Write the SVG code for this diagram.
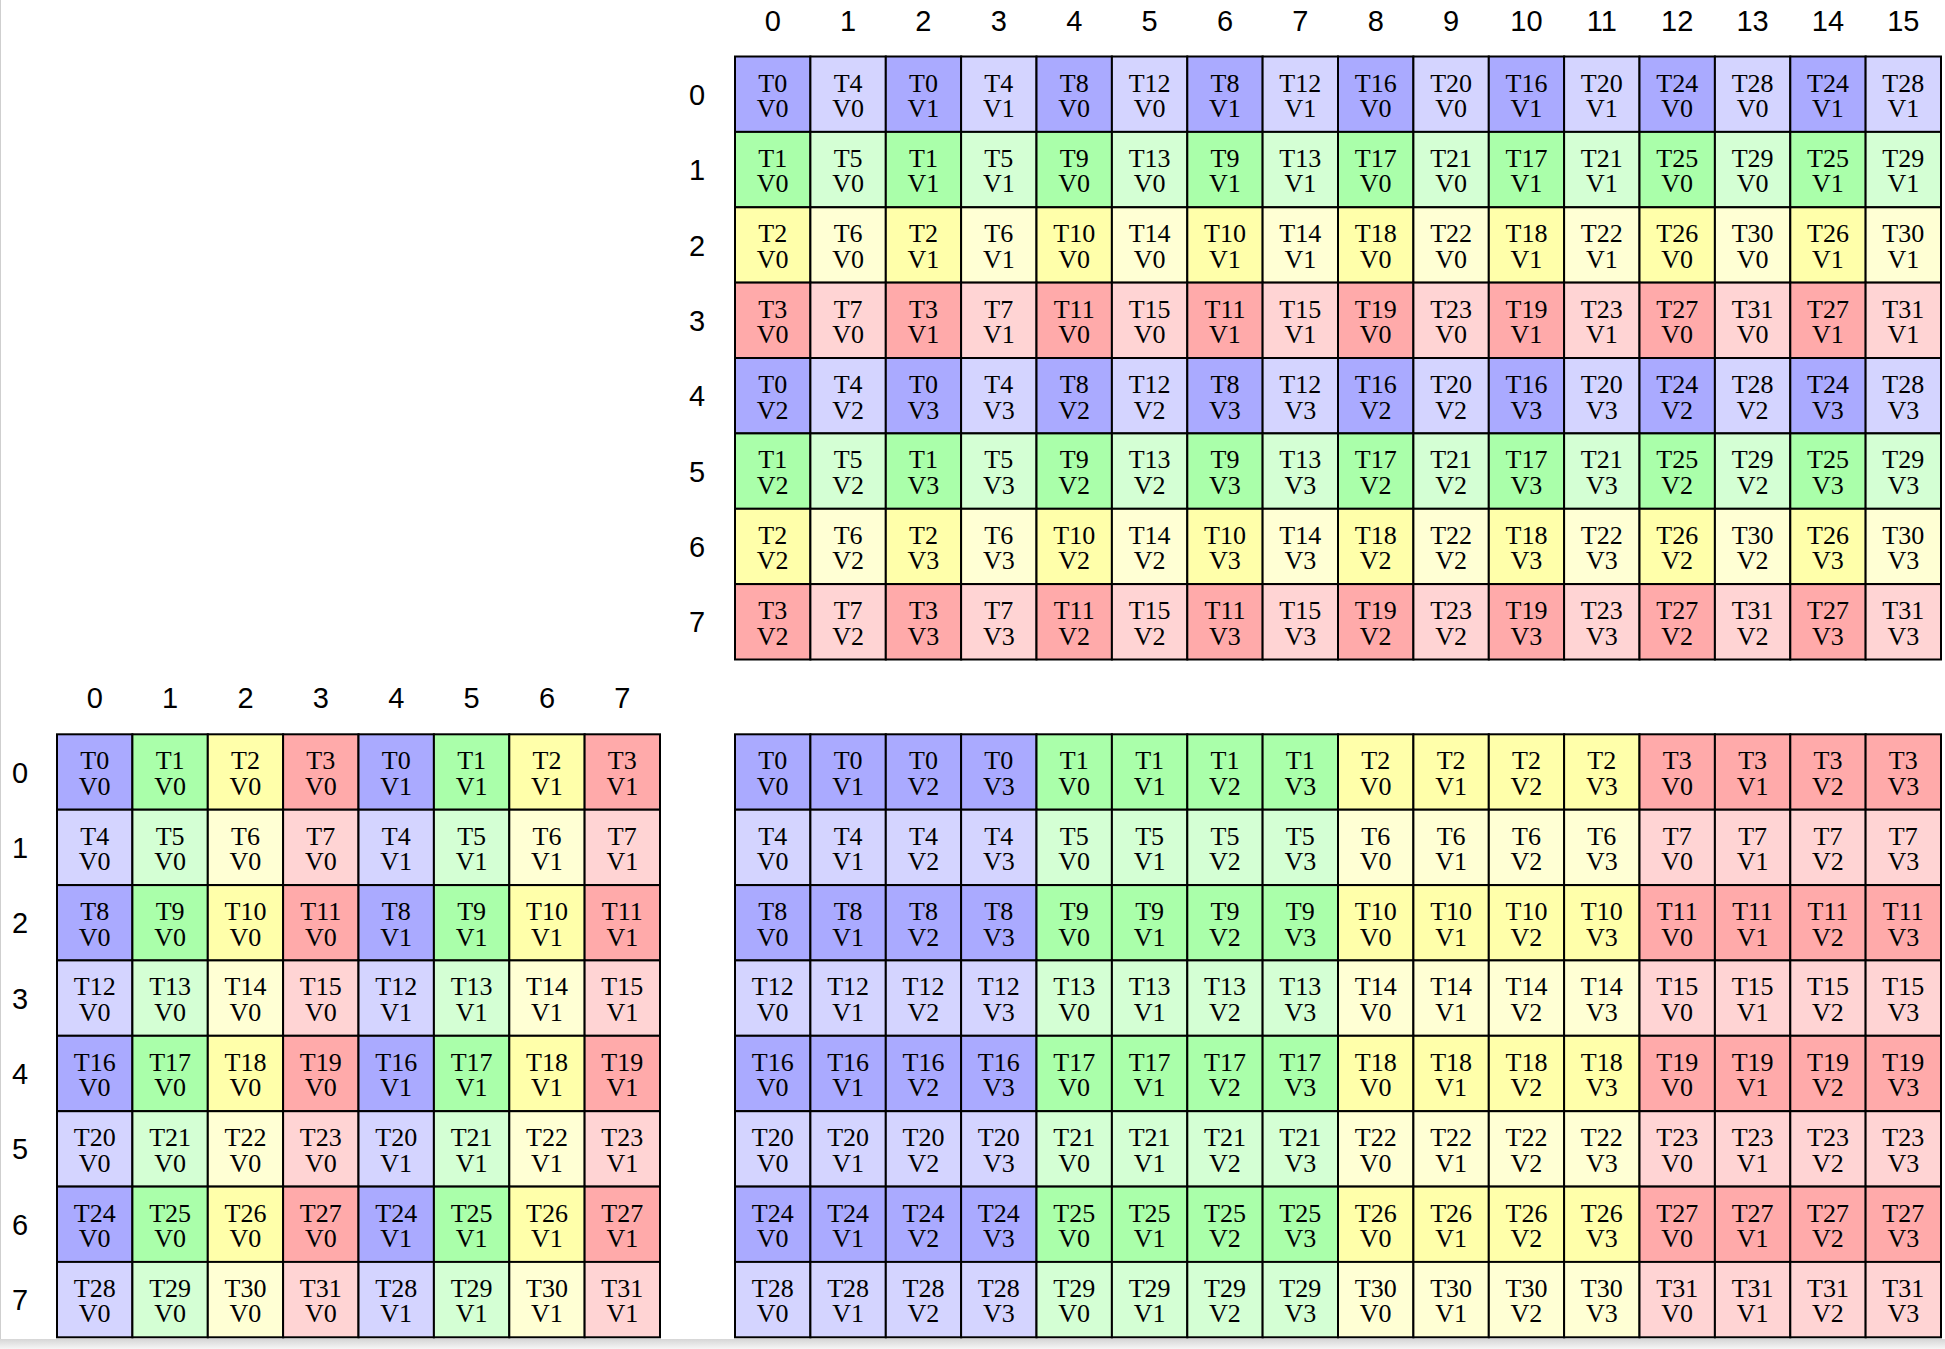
<svg xmlns="http://www.w3.org/2000/svg" width="1945" height="1349" viewBox="0 0 1945 1349">
<style>
rect.k{stroke:#000;stroke-width:2;width:75.4px;height:75.4px}
.b0{fill:#aaaaff}.b1{fill:#d4d4ff}.g0{fill:#aaffaa}.g1{fill:#d4ffd4}.y0{fill:#ffffaa}.y1{fill:#ffffd4}.r0{fill:#ffaaaa}.r1{fill:#ffd4d4}
text{font-family:"Liberation Serif","Times New Roman",serif;font-size:26px;text-anchor:middle;fill:#000}
text.h{font-family:"Liberation Sans",Arial,sans-serif;font-size:29px}
</style>
<defs>
<linearGradient id="sh" x1="0" y1="0" x2="0" y2="1"><stop offset="0" stop-color="#d6d6d6"/><stop offset="1" stop-color="#f6f6f6"/></linearGradient>
</defs>
<rect x="0" y="0" width="1945" height="1349" fill="#fff"/>
<rect x="0" y="1339" width="1945" height="10" fill="url(#sh)"/>
<line x1="0.5" y1="0" x2="0.5" y2="1339" stroke="#cfcfcf" stroke-width="1"/>

<g id="labels">
<g id="tr-colhead">
<text class="h" x="772.7" y="31">0</text><text class="h" x="848.1" y="31">1</text><text class="h" x="923.4" y="31">2</text><text class="h" x="998.8" y="31">3</text><text class="h" x="1074.2" y="31">4</text><text class="h" x="1149.6" y="31">5</text><text class="h" x="1225" y="31">6</text><text class="h" x="1300.3" y="31">7</text><text class="h" x="1375.7" y="31">8</text><text class="h" x="1451.1" y="31">9</text><text class="h" x="1526.5" y="31">10</text><text class="h" x="1601.8" y="31">11</text><text class="h" x="1677.2" y="31">12</text><text class="h" x="1752.6" y="31">13</text><text class="h" x="1828" y="31">14</text><text class="h" x="1903.3" y="31">15</text>
</g>
<g id="tr-rowhead">
<text class="h" x="697" y="104.7">0</text><text class="h" x="697" y="180.1">1</text><text class="h" x="697" y="255.5">2</text><text class="h" x="697" y="330.8">3</text><text class="h" x="697" y="406.2">4</text><text class="h" x="697" y="481.6">5</text><text class="h" x="697" y="557">6</text><text class="h" x="697" y="632.3">7</text>
</g>
<g id="bl-colhead">
<text class="h" x="94.7" y="708">0</text><text class="h" x="170.1" y="708">1</text><text class="h" x="245.5" y="708">2</text><text class="h" x="320.8" y="708">3</text><text class="h" x="396.2" y="708">4</text><text class="h" x="471.6" y="708">5</text><text class="h" x="547" y="708">6</text><text class="h" x="622.3" y="708">7</text>
</g>
<g id="bl-rowhead">
<text class="h" x="20" y="782.5">0</text><text class="h" x="20" y="857.9">1</text><text class="h" x="20" y="933.3">2</text><text class="h" x="20" y="1008.6">3</text><text class="h" x="20" y="1084">4</text><text class="h" x="20" y="1159.4">5</text><text class="h" x="20" y="1234.8">6</text><text class="h" x="20" y="1310.1">7</text>
</g>
</g>

<g id="connectors"></g>

<g id="grid-tr" transform="translate(735 56.5)">
<g id="tr-0-0" transform="translate(0 0)"><rect class="k b0"/><text x="37.7" y="35">T0<tspan x="37.7" dy="25.5">V0</tspan></text></g>
<g id="tr-0-1" transform="translate(75.4 0)"><rect class="k b1"/><text x="37.7" y="35">T4<tspan x="37.7" dy="25.5">V0</tspan></text></g>
<g id="tr-0-2" transform="translate(150.8 0)"><rect class="k b0"/><text x="37.7" y="35">T0<tspan x="37.7" dy="25.5">V1</tspan></text></g>
<g id="tr-0-3" transform="translate(226.1 0)"><rect class="k b1"/><text x="37.7" y="35">T4<tspan x="37.7" dy="25.5">V1</tspan></text></g>
<g id="tr-0-4" transform="translate(301.5 0)"><rect class="k b0"/><text x="37.7" y="35">T8<tspan x="37.7" dy="25.5">V0</tspan></text></g>
<g id="tr-0-5" transform="translate(376.9 0)"><rect class="k b1"/><text x="37.7" y="35">T12<tspan x="37.7" dy="25.5">V0</tspan></text></g>
<g id="tr-0-6" transform="translate(452.3 0)"><rect class="k b0"/><text x="37.7" y="35">T8<tspan x="37.7" dy="25.5">V1</tspan></text></g>
<g id="tr-0-7" transform="translate(527.6 0)"><rect class="k b1"/><text x="37.7" y="35">T12<tspan x="37.7" dy="25.5">V1</tspan></text></g>
<g id="tr-0-8" transform="translate(603 0)"><rect class="k b0"/><text x="37.7" y="35">T16<tspan x="37.7" dy="25.5">V0</tspan></text></g>
<g id="tr-0-9" transform="translate(678.4 0)"><rect class="k b1"/><text x="37.7" y="35">T20<tspan x="37.7" dy="25.5">V0</tspan></text></g>
<g id="tr-0-10" transform="translate(753.8 0)"><rect class="k b0"/><text x="37.7" y="35">T16<tspan x="37.7" dy="25.5">V1</tspan></text></g>
<g id="tr-0-11" transform="translate(829.1 0)"><rect class="k b1"/><text x="37.7" y="35">T20<tspan x="37.7" dy="25.5">V1</tspan></text></g>
<g id="tr-0-12" transform="translate(904.5 0)"><rect class="k b0"/><text x="37.7" y="35">T24<tspan x="37.7" dy="25.5">V0</tspan></text></g>
<g id="tr-0-13" transform="translate(979.9 0)"><rect class="k b1"/><text x="37.7" y="35">T28<tspan x="37.7" dy="25.5">V0</tspan></text></g>
<g id="tr-0-14" transform="translate(1055.3 0)"><rect class="k b0"/><text x="37.7" y="35">T24<tspan x="37.7" dy="25.5">V1</tspan></text></g>
<g id="tr-0-15" transform="translate(1130.6 0)"><rect class="k b1"/><text x="37.7" y="35">T28<tspan x="37.7" dy="25.5">V1</tspan></text></g>

<g id="tr-1-0" transform="translate(0 75.4)"><rect class="k g0"/><text x="37.7" y="35">T1<tspan x="37.7" dy="25.5">V0</tspan></text></g>
<g id="tr-1-1" transform="translate(75.4 75.4)"><rect class="k g1"/><text x="37.7" y="35">T5<tspan x="37.7" dy="25.5">V0</tspan></text></g>
<g id="tr-1-2" transform="translate(150.8 75.4)"><rect class="k g0"/><text x="37.7" y="35">T1<tspan x="37.7" dy="25.5">V1</tspan></text></g>
<g id="tr-1-3" transform="translate(226.1 75.4)"><rect class="k g1"/><text x="37.7" y="35">T5<tspan x="37.7" dy="25.5">V1</tspan></text></g>
<g id="tr-1-4" transform="translate(301.5 75.4)"><rect class="k g0"/><text x="37.7" y="35">T9<tspan x="37.7" dy="25.5">V0</tspan></text></g>
<g id="tr-1-5" transform="translate(376.9 75.4)"><rect class="k g1"/><text x="37.7" y="35">T13<tspan x="37.7" dy="25.5">V0</tspan></text></g>
<g id="tr-1-6" transform="translate(452.3 75.4)"><rect class="k g0"/><text x="37.7" y="35">T9<tspan x="37.7" dy="25.5">V1</tspan></text></g>
<g id="tr-1-7" transform="translate(527.6 75.4)"><rect class="k g1"/><text x="37.7" y="35">T13<tspan x="37.7" dy="25.5">V1</tspan></text></g>
<g id="tr-1-8" transform="translate(603 75.4)"><rect class="k g0"/><text x="37.7" y="35">T17<tspan x="37.7" dy="25.5">V0</tspan></text></g>
<g id="tr-1-9" transform="translate(678.4 75.4)"><rect class="k g1"/><text x="37.7" y="35">T21<tspan x="37.7" dy="25.5">V0</tspan></text></g>
<g id="tr-1-10" transform="translate(753.8 75.4)"><rect class="k g0"/><text x="37.7" y="35">T17<tspan x="37.7" dy="25.5">V1</tspan></text></g>
<g id="tr-1-11" transform="translate(829.1 75.4)"><rect class="k g1"/><text x="37.7" y="35">T21<tspan x="37.7" dy="25.5">V1</tspan></text></g>
<g id="tr-1-12" transform="translate(904.5 75.4)"><rect class="k g0"/><text x="37.7" y="35">T25<tspan x="37.7" dy="25.5">V0</tspan></text></g>
<g id="tr-1-13" transform="translate(979.9 75.4)"><rect class="k g1"/><text x="37.7" y="35">T29<tspan x="37.7" dy="25.5">V0</tspan></text></g>
<g id="tr-1-14" transform="translate(1055.3 75.4)"><rect class="k g0"/><text x="37.7" y="35">T25<tspan x="37.7" dy="25.5">V1</tspan></text></g>
<g id="tr-1-15" transform="translate(1130.6 75.4)"><rect class="k g1"/><text x="37.7" y="35">T29<tspan x="37.7" dy="25.5">V1</tspan></text></g>

<g id="tr-2-0" transform="translate(0 150.8)"><rect class="k y0"/><text x="37.7" y="35">T2<tspan x="37.7" dy="25.5">V0</tspan></text></g>
<g id="tr-2-1" transform="translate(75.4 150.8)"><rect class="k y1"/><text x="37.7" y="35">T6<tspan x="37.7" dy="25.5">V0</tspan></text></g>
<g id="tr-2-2" transform="translate(150.8 150.8)"><rect class="k y0"/><text x="37.7" y="35">T2<tspan x="37.7" dy="25.5">V1</tspan></text></g>
<g id="tr-2-3" transform="translate(226.1 150.8)"><rect class="k y1"/><text x="37.7" y="35">T6<tspan x="37.7" dy="25.5">V1</tspan></text></g>
<g id="tr-2-4" transform="translate(301.5 150.8)"><rect class="k y0"/><text x="37.7" y="35">T10<tspan x="37.7" dy="25.5">V0</tspan></text></g>
<g id="tr-2-5" transform="translate(376.9 150.8)"><rect class="k y1"/><text x="37.7" y="35">T14<tspan x="37.7" dy="25.5">V0</tspan></text></g>
<g id="tr-2-6" transform="translate(452.3 150.8)"><rect class="k y0"/><text x="37.7" y="35">T10<tspan x="37.7" dy="25.5">V1</tspan></text></g>
<g id="tr-2-7" transform="translate(527.6 150.8)"><rect class="k y1"/><text x="37.7" y="35">T14<tspan x="37.7" dy="25.5">V1</tspan></text></g>
<g id="tr-2-8" transform="translate(603 150.8)"><rect class="k y0"/><text x="37.7" y="35">T18<tspan x="37.7" dy="25.5">V0</tspan></text></g>
<g id="tr-2-9" transform="translate(678.4 150.8)"><rect class="k y1"/><text x="37.7" y="35">T22<tspan x="37.7" dy="25.5">V0</tspan></text></g>
<g id="tr-2-10" transform="translate(753.8 150.8)"><rect class="k y0"/><text x="37.7" y="35">T18<tspan x="37.7" dy="25.5">V1</tspan></text></g>
<g id="tr-2-11" transform="translate(829.1 150.8)"><rect class="k y1"/><text x="37.7" y="35">T22<tspan x="37.7" dy="25.5">V1</tspan></text></g>
<g id="tr-2-12" transform="translate(904.5 150.8)"><rect class="k y0"/><text x="37.7" y="35">T26<tspan x="37.7" dy="25.5">V0</tspan></text></g>
<g id="tr-2-13" transform="translate(979.9 150.8)"><rect class="k y1"/><text x="37.7" y="35">T30<tspan x="37.7" dy="25.5">V0</tspan></text></g>
<g id="tr-2-14" transform="translate(1055.3 150.8)"><rect class="k y0"/><text x="37.7" y="35">T26<tspan x="37.7" dy="25.5">V1</tspan></text></g>
<g id="tr-2-15" transform="translate(1130.6 150.8)"><rect class="k y1"/><text x="37.7" y="35">T30<tspan x="37.7" dy="25.5">V1</tspan></text></g>

<g id="tr-3-0" transform="translate(0 226.1)"><rect class="k r0"/><text x="37.7" y="35">T3<tspan x="37.7" dy="25.5">V0</tspan></text></g>
<g id="tr-3-1" transform="translate(75.4 226.1)"><rect class="k r1"/><text x="37.7" y="35">T7<tspan x="37.7" dy="25.5">V0</tspan></text></g>
<g id="tr-3-2" transform="translate(150.8 226.1)"><rect class="k r0"/><text x="37.7" y="35">T3<tspan x="37.7" dy="25.5">V1</tspan></text></g>
<g id="tr-3-3" transform="translate(226.1 226.1)"><rect class="k r1"/><text x="37.7" y="35">T7<tspan x="37.7" dy="25.5">V1</tspan></text></g>
<g id="tr-3-4" transform="translate(301.5 226.1)"><rect class="k r0"/><text x="37.7" y="35">T11<tspan x="37.7" dy="25.5">V0</tspan></text></g>
<g id="tr-3-5" transform="translate(376.9 226.1)"><rect class="k r1"/><text x="37.7" y="35">T15<tspan x="37.7" dy="25.5">V0</tspan></text></g>
<g id="tr-3-6" transform="translate(452.3 226.1)"><rect class="k r0"/><text x="37.7" y="35">T11<tspan x="37.7" dy="25.5">V1</tspan></text></g>
<g id="tr-3-7" transform="translate(527.6 226.1)"><rect class="k r1"/><text x="37.7" y="35">T15<tspan x="37.7" dy="25.5">V1</tspan></text></g>
<g id="tr-3-8" transform="translate(603 226.1)"><rect class="k r0"/><text x="37.7" y="35">T19<tspan x="37.7" dy="25.5">V0</tspan></text></g>
<g id="tr-3-9" transform="translate(678.4 226.1)"><rect class="k r1"/><text x="37.7" y="35">T23<tspan x="37.7" dy="25.5">V0</tspan></text></g>
<g id="tr-3-10" transform="translate(753.8 226.1)"><rect class="k r0"/><text x="37.7" y="35">T19<tspan x="37.7" dy="25.5">V1</tspan></text></g>
<g id="tr-3-11" transform="translate(829.1 226.1)"><rect class="k r1"/><text x="37.7" y="35">T23<tspan x="37.7" dy="25.5">V1</tspan></text></g>
<g id="tr-3-12" transform="translate(904.5 226.1)"><rect class="k r0"/><text x="37.7" y="35">T27<tspan x="37.7" dy="25.5">V0</tspan></text></g>
<g id="tr-3-13" transform="translate(979.9 226.1)"><rect class="k r1"/><text x="37.7" y="35">T31<tspan x="37.7" dy="25.5">V0</tspan></text></g>
<g id="tr-3-14" transform="translate(1055.3 226.1)"><rect class="k r0"/><text x="37.7" y="35">T27<tspan x="37.7" dy="25.5">V1</tspan></text></g>
<g id="tr-3-15" transform="translate(1130.6 226.1)"><rect class="k r1"/><text x="37.7" y="35">T31<tspan x="37.7" dy="25.5">V1</tspan></text></g>

<g id="tr-4-0" transform="translate(0 301.5)"><rect class="k b0"/><text x="37.7" y="35">T0<tspan x="37.7" dy="25.5">V2</tspan></text></g>
<g id="tr-4-1" transform="translate(75.4 301.5)"><rect class="k b1"/><text x="37.7" y="35">T4<tspan x="37.7" dy="25.5">V2</tspan></text></g>
<g id="tr-4-2" transform="translate(150.8 301.5)"><rect class="k b0"/><text x="37.7" y="35">T0<tspan x="37.7" dy="25.5">V3</tspan></text></g>
<g id="tr-4-3" transform="translate(226.1 301.5)"><rect class="k b1"/><text x="37.7" y="35">T4<tspan x="37.7" dy="25.5">V3</tspan></text></g>
<g id="tr-4-4" transform="translate(301.5 301.5)"><rect class="k b0"/><text x="37.7" y="35">T8<tspan x="37.7" dy="25.5">V2</tspan></text></g>
<g id="tr-4-5" transform="translate(376.9 301.5)"><rect class="k b1"/><text x="37.7" y="35">T12<tspan x="37.7" dy="25.5">V2</tspan></text></g>
<g id="tr-4-6" transform="translate(452.3 301.5)"><rect class="k b0"/><text x="37.7" y="35">T8<tspan x="37.7" dy="25.5">V3</tspan></text></g>
<g id="tr-4-7" transform="translate(527.6 301.5)"><rect class="k b1"/><text x="37.7" y="35">T12<tspan x="37.7" dy="25.5">V3</tspan></text></g>
<g id="tr-4-8" transform="translate(603 301.5)"><rect class="k b0"/><text x="37.7" y="35">T16<tspan x="37.7" dy="25.5">V2</tspan></text></g>
<g id="tr-4-9" transform="translate(678.4 301.5)"><rect class="k b1"/><text x="37.7" y="35">T20<tspan x="37.7" dy="25.5">V2</tspan></text></g>
<g id="tr-4-10" transform="translate(753.8 301.5)"><rect class="k b0"/><text x="37.7" y="35">T16<tspan x="37.7" dy="25.5">V3</tspan></text></g>
<g id="tr-4-11" transform="translate(829.1 301.5)"><rect class="k b1"/><text x="37.7" y="35">T20<tspan x="37.7" dy="25.5">V3</tspan></text></g>
<g id="tr-4-12" transform="translate(904.5 301.5)"><rect class="k b0"/><text x="37.7" y="35">T24<tspan x="37.7" dy="25.5">V2</tspan></text></g>
<g id="tr-4-13" transform="translate(979.9 301.5)"><rect class="k b1"/><text x="37.7" y="35">T28<tspan x="37.7" dy="25.5">V2</tspan></text></g>
<g id="tr-4-14" transform="translate(1055.3 301.5)"><rect class="k b0"/><text x="37.7" y="35">T24<tspan x="37.7" dy="25.5">V3</tspan></text></g>
<g id="tr-4-15" transform="translate(1130.6 301.5)"><rect class="k b1"/><text x="37.7" y="35">T28<tspan x="37.7" dy="25.5">V3</tspan></text></g>

<g id="tr-5-0" transform="translate(0 376.9)"><rect class="k g0"/><text x="37.7" y="35">T1<tspan x="37.7" dy="25.5">V2</tspan></text></g>
<g id="tr-5-1" transform="translate(75.4 376.9)"><rect class="k g1"/><text x="37.7" y="35">T5<tspan x="37.7" dy="25.5">V2</tspan></text></g>
<g id="tr-5-2" transform="translate(150.8 376.9)"><rect class="k g0"/><text x="37.7" y="35">T1<tspan x="37.7" dy="25.5">V3</tspan></text></g>
<g id="tr-5-3" transform="translate(226.1 376.9)"><rect class="k g1"/><text x="37.7" y="35">T5<tspan x="37.7" dy="25.5">V3</tspan></text></g>
<g id="tr-5-4" transform="translate(301.5 376.9)"><rect class="k g0"/><text x="37.7" y="35">T9<tspan x="37.7" dy="25.5">V2</tspan></text></g>
<g id="tr-5-5" transform="translate(376.9 376.9)"><rect class="k g1"/><text x="37.7" y="35">T13<tspan x="37.7" dy="25.5">V2</tspan></text></g>
<g id="tr-5-6" transform="translate(452.3 376.9)"><rect class="k g0"/><text x="37.7" y="35">T9<tspan x="37.7" dy="25.5">V3</tspan></text></g>
<g id="tr-5-7" transform="translate(527.6 376.9)"><rect class="k g1"/><text x="37.7" y="35">T13<tspan x="37.7" dy="25.5">V3</tspan></text></g>
<g id="tr-5-8" transform="translate(603 376.9)"><rect class="k g0"/><text x="37.7" y="35">T17<tspan x="37.7" dy="25.5">V2</tspan></text></g>
<g id="tr-5-9" transform="translate(678.4 376.9)"><rect class="k g1"/><text x="37.7" y="35">T21<tspan x="37.7" dy="25.5">V2</tspan></text></g>
<g id="tr-5-10" transform="translate(753.8 376.9)"><rect class="k g0"/><text x="37.7" y="35">T17<tspan x="37.7" dy="25.5">V3</tspan></text></g>
<g id="tr-5-11" transform="translate(829.1 376.9)"><rect class="k g1"/><text x="37.7" y="35">T21<tspan x="37.7" dy="25.5">V3</tspan></text></g>
<g id="tr-5-12" transform="translate(904.5 376.9)"><rect class="k g0"/><text x="37.7" y="35">T25<tspan x="37.7" dy="25.5">V2</tspan></text></g>
<g id="tr-5-13" transform="translate(979.9 376.9)"><rect class="k g1"/><text x="37.7" y="35">T29<tspan x="37.7" dy="25.5">V2</tspan></text></g>
<g id="tr-5-14" transform="translate(1055.3 376.9)"><rect class="k g0"/><text x="37.7" y="35">T25<tspan x="37.7" dy="25.5">V3</tspan></text></g>
<g id="tr-5-15" transform="translate(1130.6 376.9)"><rect class="k g1"/><text x="37.7" y="35">T29<tspan x="37.7" dy="25.5">V3</tspan></text></g>

<g id="tr-6-0" transform="translate(0 452.3)"><rect class="k y0"/><text x="37.7" y="35">T2<tspan x="37.7" dy="25.5">V2</tspan></text></g>
<g id="tr-6-1" transform="translate(75.4 452.3)"><rect class="k y1"/><text x="37.7" y="35">T6<tspan x="37.7" dy="25.5">V2</tspan></text></g>
<g id="tr-6-2" transform="translate(150.8 452.3)"><rect class="k y0"/><text x="37.7" y="35">T2<tspan x="37.7" dy="25.5">V3</tspan></text></g>
<g id="tr-6-3" transform="translate(226.1 452.3)"><rect class="k y1"/><text x="37.7" y="35">T6<tspan x="37.7" dy="25.5">V3</tspan></text></g>
<g id="tr-6-4" transform="translate(301.5 452.3)"><rect class="k y0"/><text x="37.7" y="35">T10<tspan x="37.7" dy="25.5">V2</tspan></text></g>
<g id="tr-6-5" transform="translate(376.9 452.3)"><rect class="k y1"/><text x="37.7" y="35">T14<tspan x="37.7" dy="25.5">V2</tspan></text></g>
<g id="tr-6-6" transform="translate(452.3 452.3)"><rect class="k y0"/><text x="37.7" y="35">T10<tspan x="37.7" dy="25.5">V3</tspan></text></g>
<g id="tr-6-7" transform="translate(527.6 452.3)"><rect class="k y1"/><text x="37.7" y="35">T14<tspan x="37.7" dy="25.5">V3</tspan></text></g>
<g id="tr-6-8" transform="translate(603 452.3)"><rect class="k y0"/><text x="37.7" y="35">T18<tspan x="37.7" dy="25.5">V2</tspan></text></g>
<g id="tr-6-9" transform="translate(678.4 452.3)"><rect class="k y1"/><text x="37.7" y="35">T22<tspan x="37.7" dy="25.5">V2</tspan></text></g>
<g id="tr-6-10" transform="translate(753.8 452.3)"><rect class="k y0"/><text x="37.7" y="35">T18<tspan x="37.7" dy="25.5">V3</tspan></text></g>
<g id="tr-6-11" transform="translate(829.1 452.3)"><rect class="k y1"/><text x="37.7" y="35">T22<tspan x="37.7" dy="25.5">V3</tspan></text></g>
<g id="tr-6-12" transform="translate(904.5 452.3)"><rect class="k y0"/><text x="37.7" y="35">T26<tspan x="37.7" dy="25.5">V2</tspan></text></g>
<g id="tr-6-13" transform="translate(979.9 452.3)"><rect class="k y1"/><text x="37.7" y="35">T30<tspan x="37.7" dy="25.5">V2</tspan></text></g>
<g id="tr-6-14" transform="translate(1055.3 452.3)"><rect class="k y0"/><text x="37.7" y="35">T26<tspan x="37.7" dy="25.5">V3</tspan></text></g>
<g id="tr-6-15" transform="translate(1130.6 452.3)"><rect class="k y1"/><text x="37.7" y="35">T30<tspan x="37.7" dy="25.5">V3</tspan></text></g>

<g id="tr-7-0" transform="translate(0 527.6)"><rect class="k r0"/><text x="37.7" y="35">T3<tspan x="37.7" dy="25.5">V2</tspan></text></g>
<g id="tr-7-1" transform="translate(75.4 527.6)"><rect class="k r1"/><text x="37.7" y="35">T7<tspan x="37.7" dy="25.5">V2</tspan></text></g>
<g id="tr-7-2" transform="translate(150.8 527.6)"><rect class="k r0"/><text x="37.7" y="35">T3<tspan x="37.7" dy="25.5">V3</tspan></text></g>
<g id="tr-7-3" transform="translate(226.1 527.6)"><rect class="k r1"/><text x="37.7" y="35">T7<tspan x="37.7" dy="25.5">V3</tspan></text></g>
<g id="tr-7-4" transform="translate(301.5 527.6)"><rect class="k r0"/><text x="37.7" y="35">T11<tspan x="37.7" dy="25.5">V2</tspan></text></g>
<g id="tr-7-5" transform="translate(376.9 527.6)"><rect class="k r1"/><text x="37.7" y="35">T15<tspan x="37.7" dy="25.5">V2</tspan></text></g>
<g id="tr-7-6" transform="translate(452.3 527.6)"><rect class="k r0"/><text x="37.7" y="35">T11<tspan x="37.7" dy="25.5">V3</tspan></text></g>
<g id="tr-7-7" transform="translate(527.6 527.6)"><rect class="k r1"/><text x="37.7" y="35">T15<tspan x="37.7" dy="25.5">V3</tspan></text></g>
<g id="tr-7-8" transform="translate(603 527.6)"><rect class="k r0"/><text x="37.7" y="35">T19<tspan x="37.7" dy="25.5">V2</tspan></text></g>
<g id="tr-7-9" transform="translate(678.4 527.6)"><rect class="k r1"/><text x="37.7" y="35">T23<tspan x="37.7" dy="25.5">V2</tspan></text></g>
<g id="tr-7-10" transform="translate(753.8 527.6)"><rect class="k r0"/><text x="37.7" y="35">T19<tspan x="37.7" dy="25.5">V3</tspan></text></g>
<g id="tr-7-11" transform="translate(829.1 527.6)"><rect class="k r1"/><text x="37.7" y="35">T23<tspan x="37.7" dy="25.5">V3</tspan></text></g>
<g id="tr-7-12" transform="translate(904.5 527.6)"><rect class="k r0"/><text x="37.7" y="35">T27<tspan x="37.7" dy="25.5">V2</tspan></text></g>
<g id="tr-7-13" transform="translate(979.9 527.6)"><rect class="k r1"/><text x="37.7" y="35">T31<tspan x="37.7" dy="25.5">V2</tspan></text></g>
<g id="tr-7-14" transform="translate(1055.3 527.6)"><rect class="k r0"/><text x="37.7" y="35">T27<tspan x="37.7" dy="25.5">V3</tspan></text></g>
<g id="tr-7-15" transform="translate(1130.6 527.6)"><rect class="k r1"/><text x="37.7" y="35">T31<tspan x="37.7" dy="25.5">V3</tspan></text></g>
</g>

<g id="grid-bl" transform="translate(57 734.3)">
<g id="bl-0-0" transform="translate(0 0)"><rect class="k b0"/><text x="37.7" y="35">T0<tspan x="37.7" dy="25.5">V0</tspan></text></g>
<g id="bl-0-1" transform="translate(75.4 0)"><rect class="k g0"/><text x="37.7" y="35">T1<tspan x="37.7" dy="25.5">V0</tspan></text></g>
<g id="bl-0-2" transform="translate(150.8 0)"><rect class="k y0"/><text x="37.7" y="35">T2<tspan x="37.7" dy="25.5">V0</tspan></text></g>
<g id="bl-0-3" transform="translate(226.1 0)"><rect class="k r0"/><text x="37.7" y="35">T3<tspan x="37.7" dy="25.5">V0</tspan></text></g>
<g id="bl-0-4" transform="translate(301.5 0)"><rect class="k b0"/><text x="37.7" y="35">T0<tspan x="37.7" dy="25.5">V1</tspan></text></g>
<g id="bl-0-5" transform="translate(376.9 0)"><rect class="k g0"/><text x="37.7" y="35">T1<tspan x="37.7" dy="25.5">V1</tspan></text></g>
<g id="bl-0-6" transform="translate(452.3 0)"><rect class="k y0"/><text x="37.7" y="35">T2<tspan x="37.7" dy="25.5">V1</tspan></text></g>
<g id="bl-0-7" transform="translate(527.6 0)"><rect class="k r0"/><text x="37.7" y="35">T3<tspan x="37.7" dy="25.5">V1</tspan></text></g>

<g id="bl-1-0" transform="translate(0 75.4)"><rect class="k b1"/><text x="37.7" y="35">T4<tspan x="37.7" dy="25.5">V0</tspan></text></g>
<g id="bl-1-1" transform="translate(75.4 75.4)"><rect class="k g1"/><text x="37.7" y="35">T5<tspan x="37.7" dy="25.5">V0</tspan></text></g>
<g id="bl-1-2" transform="translate(150.8 75.4)"><rect class="k y1"/><text x="37.7" y="35">T6<tspan x="37.7" dy="25.5">V0</tspan></text></g>
<g id="bl-1-3" transform="translate(226.1 75.4)"><rect class="k r1"/><text x="37.7" y="35">T7<tspan x="37.7" dy="25.5">V0</tspan></text></g>
<g id="bl-1-4" transform="translate(301.5 75.4)"><rect class="k b1"/><text x="37.7" y="35">T4<tspan x="37.7" dy="25.5">V1</tspan></text></g>
<g id="bl-1-5" transform="translate(376.9 75.4)"><rect class="k g1"/><text x="37.7" y="35">T5<tspan x="37.7" dy="25.5">V1</tspan></text></g>
<g id="bl-1-6" transform="translate(452.3 75.4)"><rect class="k y1"/><text x="37.7" y="35">T6<tspan x="37.7" dy="25.5">V1</tspan></text></g>
<g id="bl-1-7" transform="translate(527.6 75.4)"><rect class="k r1"/><text x="37.7" y="35">T7<tspan x="37.7" dy="25.5">V1</tspan></text></g>

<g id="bl-2-0" transform="translate(0 150.8)"><rect class="k b0"/><text x="37.7" y="35">T8<tspan x="37.7" dy="25.5">V0</tspan></text></g>
<g id="bl-2-1" transform="translate(75.4 150.8)"><rect class="k g0"/><text x="37.7" y="35">T9<tspan x="37.7" dy="25.5">V0</tspan></text></g>
<g id="bl-2-2" transform="translate(150.8 150.8)"><rect class="k y0"/><text x="37.7" y="35">T10<tspan x="37.7" dy="25.5">V0</tspan></text></g>
<g id="bl-2-3" transform="translate(226.1 150.8)"><rect class="k r0"/><text x="37.7" y="35">T11<tspan x="37.7" dy="25.5">V0</tspan></text></g>
<g id="bl-2-4" transform="translate(301.5 150.8)"><rect class="k b0"/><text x="37.7" y="35">T8<tspan x="37.7" dy="25.5">V1</tspan></text></g>
<g id="bl-2-5" transform="translate(376.9 150.8)"><rect class="k g0"/><text x="37.7" y="35">T9<tspan x="37.7" dy="25.5">V1</tspan></text></g>
<g id="bl-2-6" transform="translate(452.3 150.8)"><rect class="k y0"/><text x="37.7" y="35">T10<tspan x="37.7" dy="25.5">V1</tspan></text></g>
<g id="bl-2-7" transform="translate(527.6 150.8)"><rect class="k r0"/><text x="37.7" y="35">T11<tspan x="37.7" dy="25.5">V1</tspan></text></g>

<g id="bl-3-0" transform="translate(0 226.1)"><rect class="k b1"/><text x="37.7" y="35">T12<tspan x="37.7" dy="25.5">V0</tspan></text></g>
<g id="bl-3-1" transform="translate(75.4 226.1)"><rect class="k g1"/><text x="37.7" y="35">T13<tspan x="37.7" dy="25.5">V0</tspan></text></g>
<g id="bl-3-2" transform="translate(150.8 226.1)"><rect class="k y1"/><text x="37.7" y="35">T14<tspan x="37.7" dy="25.5">V0</tspan></text></g>
<g id="bl-3-3" transform="translate(226.1 226.1)"><rect class="k r1"/><text x="37.7" y="35">T15<tspan x="37.7" dy="25.5">V0</tspan></text></g>
<g id="bl-3-4" transform="translate(301.5 226.1)"><rect class="k b1"/><text x="37.7" y="35">T12<tspan x="37.7" dy="25.5">V1</tspan></text></g>
<g id="bl-3-5" transform="translate(376.9 226.1)"><rect class="k g1"/><text x="37.7" y="35">T13<tspan x="37.7" dy="25.5">V1</tspan></text></g>
<g id="bl-3-6" transform="translate(452.3 226.1)"><rect class="k y1"/><text x="37.7" y="35">T14<tspan x="37.7" dy="25.5">V1</tspan></text></g>
<g id="bl-3-7" transform="translate(527.6 226.1)"><rect class="k r1"/><text x="37.7" y="35">T15<tspan x="37.7" dy="25.5">V1</tspan></text></g>

<g id="bl-4-0" transform="translate(0 301.5)"><rect class="k b0"/><text x="37.7" y="35">T16<tspan x="37.7" dy="25.5">V0</tspan></text></g>
<g id="bl-4-1" transform="translate(75.4 301.5)"><rect class="k g0"/><text x="37.7" y="35">T17<tspan x="37.7" dy="25.5">V0</tspan></text></g>
<g id="bl-4-2" transform="translate(150.8 301.5)"><rect class="k y0"/><text x="37.7" y="35">T18<tspan x="37.7" dy="25.5">V0</tspan></text></g>
<g id="bl-4-3" transform="translate(226.1 301.5)"><rect class="k r0"/><text x="37.7" y="35">T19<tspan x="37.7" dy="25.5">V0</tspan></text></g>
<g id="bl-4-4" transform="translate(301.5 301.5)"><rect class="k b0"/><text x="37.7" y="35">T16<tspan x="37.7" dy="25.5">V1</tspan></text></g>
<g id="bl-4-5" transform="translate(376.9 301.5)"><rect class="k g0"/><text x="37.7" y="35">T17<tspan x="37.7" dy="25.5">V1</tspan></text></g>
<g id="bl-4-6" transform="translate(452.3 301.5)"><rect class="k y0"/><text x="37.7" y="35">T18<tspan x="37.7" dy="25.5">V1</tspan></text></g>
<g id="bl-4-7" transform="translate(527.6 301.5)"><rect class="k r0"/><text x="37.7" y="35">T19<tspan x="37.7" dy="25.5">V1</tspan></text></g>

<g id="bl-5-0" transform="translate(0 376.9)"><rect class="k b1"/><text x="37.7" y="35">T20<tspan x="37.7" dy="25.5">V0</tspan></text></g>
<g id="bl-5-1" transform="translate(75.4 376.9)"><rect class="k g1"/><text x="37.7" y="35">T21<tspan x="37.7" dy="25.5">V0</tspan></text></g>
<g id="bl-5-2" transform="translate(150.8 376.9)"><rect class="k y1"/><text x="37.7" y="35">T22<tspan x="37.7" dy="25.5">V0</tspan></text></g>
<g id="bl-5-3" transform="translate(226.1 376.9)"><rect class="k r1"/><text x="37.7" y="35">T23<tspan x="37.7" dy="25.5">V0</tspan></text></g>
<g id="bl-5-4" transform="translate(301.5 376.9)"><rect class="k b1"/><text x="37.7" y="35">T20<tspan x="37.7" dy="25.5">V1</tspan></text></g>
<g id="bl-5-5" transform="translate(376.9 376.9)"><rect class="k g1"/><text x="37.7" y="35">T21<tspan x="37.7" dy="25.5">V1</tspan></text></g>
<g id="bl-5-6" transform="translate(452.3 376.9)"><rect class="k y1"/><text x="37.7" y="35">T22<tspan x="37.7" dy="25.5">V1</tspan></text></g>
<g id="bl-5-7" transform="translate(527.6 376.9)"><rect class="k r1"/><text x="37.7" y="35">T23<tspan x="37.7" dy="25.5">V1</tspan></text></g>

<g id="bl-6-0" transform="translate(0 452.3)"><rect class="k b0"/><text x="37.7" y="35">T24<tspan x="37.7" dy="25.5">V0</tspan></text></g>
<g id="bl-6-1" transform="translate(75.4 452.3)"><rect class="k g0"/><text x="37.7" y="35">T25<tspan x="37.7" dy="25.5">V0</tspan></text></g>
<g id="bl-6-2" transform="translate(150.8 452.3)"><rect class="k y0"/><text x="37.7" y="35">T26<tspan x="37.7" dy="25.5">V0</tspan></text></g>
<g id="bl-6-3" transform="translate(226.1 452.3)"><rect class="k r0"/><text x="37.7" y="35">T27<tspan x="37.7" dy="25.5">V0</tspan></text></g>
<g id="bl-6-4" transform="translate(301.5 452.3)"><rect class="k b0"/><text x="37.7" y="35">T24<tspan x="37.7" dy="25.5">V1</tspan></text></g>
<g id="bl-6-5" transform="translate(376.9 452.3)"><rect class="k g0"/><text x="37.7" y="35">T25<tspan x="37.7" dy="25.5">V1</tspan></text></g>
<g id="bl-6-6" transform="translate(452.3 452.3)"><rect class="k y0"/><text x="37.7" y="35">T26<tspan x="37.7" dy="25.5">V1</tspan></text></g>
<g id="bl-6-7" transform="translate(527.6 452.3)"><rect class="k r0"/><text x="37.7" y="35">T27<tspan x="37.7" dy="25.5">V1</tspan></text></g>

<g id="bl-7-0" transform="translate(0 527.6)"><rect class="k b1"/><text x="37.7" y="35">T28<tspan x="37.7" dy="25.5">V0</tspan></text></g>
<g id="bl-7-1" transform="translate(75.4 527.6)"><rect class="k g1"/><text x="37.7" y="35">T29<tspan x="37.7" dy="25.5">V0</tspan></text></g>
<g id="bl-7-2" transform="translate(150.8 527.6)"><rect class="k y1"/><text x="37.7" y="35">T30<tspan x="37.7" dy="25.5">V0</tspan></text></g>
<g id="bl-7-3" transform="translate(226.1 527.6)"><rect class="k r1"/><text x="37.7" y="35">T31<tspan x="37.7" dy="25.5">V0</tspan></text></g>
<g id="bl-7-4" transform="translate(301.5 527.6)"><rect class="k b1"/><text x="37.7" y="35">T28<tspan x="37.7" dy="25.5">V1</tspan></text></g>
<g id="bl-7-5" transform="translate(376.9 527.6)"><rect class="k g1"/><text x="37.7" y="35">T29<tspan x="37.7" dy="25.5">V1</tspan></text></g>
<g id="bl-7-6" transform="translate(452.3 527.6)"><rect class="k y1"/><text x="37.7" y="35">T30<tspan x="37.7" dy="25.5">V1</tspan></text></g>
<g id="bl-7-7" transform="translate(527.6 527.6)"><rect class="k r1"/><text x="37.7" y="35">T31<tspan x="37.7" dy="25.5">V1</tspan></text></g>
</g>

<g id="grid-br" transform="translate(735 734.3)">
<g id="br-0-0" transform="translate(0 0)"><rect class="k b0"/><text x="37.7" y="35">T0<tspan x="37.7" dy="25.5">V0</tspan></text></g>
<g id="br-0-1" transform="translate(75.4 0)"><rect class="k b0"/><text x="37.7" y="35">T0<tspan x="37.7" dy="25.5">V1</tspan></text></g>
<g id="br-0-2" transform="translate(150.8 0)"><rect class="k b0"/><text x="37.7" y="35">T0<tspan x="37.7" dy="25.5">V2</tspan></text></g>
<g id="br-0-3" transform="translate(226.1 0)"><rect class="k b0"/><text x="37.7" y="35">T0<tspan x="37.7" dy="25.5">V3</tspan></text></g>
<g id="br-0-4" transform="translate(301.5 0)"><rect class="k g0"/><text x="37.7" y="35">T1<tspan x="37.7" dy="25.5">V0</tspan></text></g>
<g id="br-0-5" transform="translate(376.9 0)"><rect class="k g0"/><text x="37.7" y="35">T1<tspan x="37.7" dy="25.5">V1</tspan></text></g>
<g id="br-0-6" transform="translate(452.3 0)"><rect class="k g0"/><text x="37.7" y="35">T1<tspan x="37.7" dy="25.5">V2</tspan></text></g>
<g id="br-0-7" transform="translate(527.6 0)"><rect class="k g0"/><text x="37.7" y="35">T1<tspan x="37.7" dy="25.5">V3</tspan></text></g>
<g id="br-0-8" transform="translate(603 0)"><rect class="k y0"/><text x="37.7" y="35">T2<tspan x="37.7" dy="25.5">V0</tspan></text></g>
<g id="br-0-9" transform="translate(678.4 0)"><rect class="k y0"/><text x="37.7" y="35">T2<tspan x="37.7" dy="25.5">V1</tspan></text></g>
<g id="br-0-10" transform="translate(753.8 0)"><rect class="k y0"/><text x="37.7" y="35">T2<tspan x="37.7" dy="25.5">V2</tspan></text></g>
<g id="br-0-11" transform="translate(829.1 0)"><rect class="k y0"/><text x="37.7" y="35">T2<tspan x="37.7" dy="25.5">V3</tspan></text></g>
<g id="br-0-12" transform="translate(904.5 0)"><rect class="k r0"/><text x="37.7" y="35">T3<tspan x="37.7" dy="25.5">V0</tspan></text></g>
<g id="br-0-13" transform="translate(979.9 0)"><rect class="k r0"/><text x="37.7" y="35">T3<tspan x="37.7" dy="25.5">V1</tspan></text></g>
<g id="br-0-14" transform="translate(1055.3 0)"><rect class="k r0"/><text x="37.7" y="35">T3<tspan x="37.7" dy="25.5">V2</tspan></text></g>
<g id="br-0-15" transform="translate(1130.6 0)"><rect class="k r0"/><text x="37.7" y="35">T3<tspan x="37.7" dy="25.5">V3</tspan></text></g>

<g id="br-1-0" transform="translate(0 75.4)"><rect class="k b1"/><text x="37.7" y="35">T4<tspan x="37.7" dy="25.5">V0</tspan></text></g>
<g id="br-1-1" transform="translate(75.4 75.4)"><rect class="k b1"/><text x="37.7" y="35">T4<tspan x="37.7" dy="25.5">V1</tspan></text></g>
<g id="br-1-2" transform="translate(150.8 75.4)"><rect class="k b1"/><text x="37.7" y="35">T4<tspan x="37.7" dy="25.5">V2</tspan></text></g>
<g id="br-1-3" transform="translate(226.1 75.4)"><rect class="k b1"/><text x="37.7" y="35">T4<tspan x="37.7" dy="25.5">V3</tspan></text></g>
<g id="br-1-4" transform="translate(301.5 75.4)"><rect class="k g1"/><text x="37.7" y="35">T5<tspan x="37.7" dy="25.5">V0</tspan></text></g>
<g id="br-1-5" transform="translate(376.9 75.4)"><rect class="k g1"/><text x="37.7" y="35">T5<tspan x="37.7" dy="25.5">V1</tspan></text></g>
<g id="br-1-6" transform="translate(452.3 75.4)"><rect class="k g1"/><text x="37.7" y="35">T5<tspan x="37.7" dy="25.5">V2</tspan></text></g>
<g id="br-1-7" transform="translate(527.6 75.4)"><rect class="k g1"/><text x="37.7" y="35">T5<tspan x="37.7" dy="25.5">V3</tspan></text></g>
<g id="br-1-8" transform="translate(603 75.4)"><rect class="k y1"/><text x="37.7" y="35">T6<tspan x="37.7" dy="25.5">V0</tspan></text></g>
<g id="br-1-9" transform="translate(678.4 75.4)"><rect class="k y1"/><text x="37.7" y="35">T6<tspan x="37.7" dy="25.5">V1</tspan></text></g>
<g id="br-1-10" transform="translate(753.8 75.4)"><rect class="k y1"/><text x="37.7" y="35">T6<tspan x="37.7" dy="25.5">V2</tspan></text></g>
<g id="br-1-11" transform="translate(829.1 75.4)"><rect class="k y1"/><text x="37.7" y="35">T6<tspan x="37.7" dy="25.5">V3</tspan></text></g>
<g id="br-1-12" transform="translate(904.5 75.4)"><rect class="k r1"/><text x="37.7" y="35">T7<tspan x="37.7" dy="25.5">V0</tspan></text></g>
<g id="br-1-13" transform="translate(979.9 75.4)"><rect class="k r1"/><text x="37.7" y="35">T7<tspan x="37.7" dy="25.5">V1</tspan></text></g>
<g id="br-1-14" transform="translate(1055.3 75.4)"><rect class="k r1"/><text x="37.7" y="35">T7<tspan x="37.7" dy="25.5">V2</tspan></text></g>
<g id="br-1-15" transform="translate(1130.6 75.4)"><rect class="k r1"/><text x="37.7" y="35">T7<tspan x="37.7" dy="25.5">V3</tspan></text></g>

<g id="br-2-0" transform="translate(0 150.8)"><rect class="k b0"/><text x="37.7" y="35">T8<tspan x="37.7" dy="25.5">V0</tspan></text></g>
<g id="br-2-1" transform="translate(75.4 150.8)"><rect class="k b0"/><text x="37.7" y="35">T8<tspan x="37.7" dy="25.5">V1</tspan></text></g>
<g id="br-2-2" transform="translate(150.8 150.8)"><rect class="k b0"/><text x="37.7" y="35">T8<tspan x="37.7" dy="25.5">V2</tspan></text></g>
<g id="br-2-3" transform="translate(226.1 150.8)"><rect class="k b0"/><text x="37.7" y="35">T8<tspan x="37.7" dy="25.5">V3</tspan></text></g>
<g id="br-2-4" transform="translate(301.5 150.8)"><rect class="k g0"/><text x="37.7" y="35">T9<tspan x="37.7" dy="25.5">V0</tspan></text></g>
<g id="br-2-5" transform="translate(376.9 150.8)"><rect class="k g0"/><text x="37.7" y="35">T9<tspan x="37.7" dy="25.5">V1</tspan></text></g>
<g id="br-2-6" transform="translate(452.3 150.8)"><rect class="k g0"/><text x="37.7" y="35">T9<tspan x="37.7" dy="25.5">V2</tspan></text></g>
<g id="br-2-7" transform="translate(527.6 150.8)"><rect class="k g0"/><text x="37.7" y="35">T9<tspan x="37.7" dy="25.5">V3</tspan></text></g>
<g id="br-2-8" transform="translate(603 150.8)"><rect class="k y0"/><text x="37.7" y="35">T10<tspan x="37.7" dy="25.5">V0</tspan></text></g>
<g id="br-2-9" transform="translate(678.4 150.8)"><rect class="k y0"/><text x="37.7" y="35">T10<tspan x="37.7" dy="25.5">V1</tspan></text></g>
<g id="br-2-10" transform="translate(753.8 150.8)"><rect class="k y0"/><text x="37.7" y="35">T10<tspan x="37.7" dy="25.5">V2</tspan></text></g>
<g id="br-2-11" transform="translate(829.1 150.8)"><rect class="k y0"/><text x="37.7" y="35">T10<tspan x="37.7" dy="25.5">V3</tspan></text></g>
<g id="br-2-12" transform="translate(904.5 150.8)"><rect class="k r0"/><text x="37.7" y="35">T11<tspan x="37.7" dy="25.5">V0</tspan></text></g>
<g id="br-2-13" transform="translate(979.9 150.8)"><rect class="k r0"/><text x="37.7" y="35">T11<tspan x="37.7" dy="25.5">V1</tspan></text></g>
<g id="br-2-14" transform="translate(1055.3 150.8)"><rect class="k r0"/><text x="37.7" y="35">T11<tspan x="37.7" dy="25.5">V2</tspan></text></g>
<g id="br-2-15" transform="translate(1130.6 150.8)"><rect class="k r0"/><text x="37.7" y="35">T11<tspan x="37.7" dy="25.5">V3</tspan></text></g>

<g id="br-3-0" transform="translate(0 226.1)"><rect class="k b1"/><text x="37.7" y="35">T12<tspan x="37.7" dy="25.5">V0</tspan></text></g>
<g id="br-3-1" transform="translate(75.4 226.1)"><rect class="k b1"/><text x="37.7" y="35">T12<tspan x="37.7" dy="25.5">V1</tspan></text></g>
<g id="br-3-2" transform="translate(150.8 226.1)"><rect class="k b1"/><text x="37.7" y="35">T12<tspan x="37.7" dy="25.5">V2</tspan></text></g>
<g id="br-3-3" transform="translate(226.1 226.1)"><rect class="k b1"/><text x="37.7" y="35">T12<tspan x="37.7" dy="25.5">V3</tspan></text></g>
<g id="br-3-4" transform="translate(301.5 226.1)"><rect class="k g1"/><text x="37.7" y="35">T13<tspan x="37.7" dy="25.5">V0</tspan></text></g>
<g id="br-3-5" transform="translate(376.9 226.1)"><rect class="k g1"/><text x="37.7" y="35">T13<tspan x="37.7" dy="25.5">V1</tspan></text></g>
<g id="br-3-6" transform="translate(452.3 226.1)"><rect class="k g1"/><text x="37.7" y="35">T13<tspan x="37.7" dy="25.5">V2</tspan></text></g>
<g id="br-3-7" transform="translate(527.6 226.1)"><rect class="k g1"/><text x="37.7" y="35">T13<tspan x="37.7" dy="25.5">V3</tspan></text></g>
<g id="br-3-8" transform="translate(603 226.1)"><rect class="k y1"/><text x="37.7" y="35">T14<tspan x="37.7" dy="25.5">V0</tspan></text></g>
<g id="br-3-9" transform="translate(678.4 226.1)"><rect class="k y1"/><text x="37.7" y="35">T14<tspan x="37.7" dy="25.5">V1</tspan></text></g>
<g id="br-3-10" transform="translate(753.8 226.1)"><rect class="k y1"/><text x="37.7" y="35">T14<tspan x="37.7" dy="25.5">V2</tspan></text></g>
<g id="br-3-11" transform="translate(829.1 226.1)"><rect class="k y1"/><text x="37.7" y="35">T14<tspan x="37.7" dy="25.5">V3</tspan></text></g>
<g id="br-3-12" transform="translate(904.5 226.1)"><rect class="k r1"/><text x="37.7" y="35">T15<tspan x="37.7" dy="25.5">V0</tspan></text></g>
<g id="br-3-13" transform="translate(979.9 226.1)"><rect class="k r1"/><text x="37.7" y="35">T15<tspan x="37.7" dy="25.5">V1</tspan></text></g>
<g id="br-3-14" transform="translate(1055.3 226.1)"><rect class="k r1"/><text x="37.7" y="35">T15<tspan x="37.7" dy="25.5">V2</tspan></text></g>
<g id="br-3-15" transform="translate(1130.6 226.1)"><rect class="k r1"/><text x="37.7" y="35">T15<tspan x="37.7" dy="25.5">V3</tspan></text></g>

<g id="br-4-0" transform="translate(0 301.5)"><rect class="k b0"/><text x="37.7" y="35">T16<tspan x="37.7" dy="25.5">V0</tspan></text></g>
<g id="br-4-1" transform="translate(75.4 301.5)"><rect class="k b0"/><text x="37.7" y="35">T16<tspan x="37.7" dy="25.5">V1</tspan></text></g>
<g id="br-4-2" transform="translate(150.8 301.5)"><rect class="k b0"/><text x="37.7" y="35">T16<tspan x="37.7" dy="25.5">V2</tspan></text></g>
<g id="br-4-3" transform="translate(226.1 301.5)"><rect class="k b0"/><text x="37.7" y="35">T16<tspan x="37.7" dy="25.5">V3</tspan></text></g>
<g id="br-4-4" transform="translate(301.5 301.5)"><rect class="k g0"/><text x="37.7" y="35">T17<tspan x="37.7" dy="25.5">V0</tspan></text></g>
<g id="br-4-5" transform="translate(376.9 301.5)"><rect class="k g0"/><text x="37.7" y="35">T17<tspan x="37.7" dy="25.5">V1</tspan></text></g>
<g id="br-4-6" transform="translate(452.3 301.5)"><rect class="k g0"/><text x="37.7" y="35">T17<tspan x="37.7" dy="25.5">V2</tspan></text></g>
<g id="br-4-7" transform="translate(527.6 301.5)"><rect class="k g0"/><text x="37.7" y="35">T17<tspan x="37.7" dy="25.5">V3</tspan></text></g>
<g id="br-4-8" transform="translate(603 301.5)"><rect class="k y0"/><text x="37.7" y="35">T18<tspan x="37.7" dy="25.5">V0</tspan></text></g>
<g id="br-4-9" transform="translate(678.4 301.5)"><rect class="k y0"/><text x="37.7" y="35">T18<tspan x="37.7" dy="25.5">V1</tspan></text></g>
<g id="br-4-10" transform="translate(753.8 301.5)"><rect class="k y0"/><text x="37.7" y="35">T18<tspan x="37.7" dy="25.5">V2</tspan></text></g>
<g id="br-4-11" transform="translate(829.1 301.5)"><rect class="k y0"/><text x="37.7" y="35">T18<tspan x="37.7" dy="25.5">V3</tspan></text></g>
<g id="br-4-12" transform="translate(904.5 301.5)"><rect class="k r0"/><text x="37.7" y="35">T19<tspan x="37.7" dy="25.5">V0</tspan></text></g>
<g id="br-4-13" transform="translate(979.9 301.5)"><rect class="k r0"/><text x="37.7" y="35">T19<tspan x="37.7" dy="25.5">V1</tspan></text></g>
<g id="br-4-14" transform="translate(1055.3 301.5)"><rect class="k r0"/><text x="37.7" y="35">T19<tspan x="37.7" dy="25.5">V2</tspan></text></g>
<g id="br-4-15" transform="translate(1130.6 301.5)"><rect class="k r0"/><text x="37.7" y="35">T19<tspan x="37.7" dy="25.5">V3</tspan></text></g>

<g id="br-5-0" transform="translate(0 376.9)"><rect class="k b1"/><text x="37.7" y="35">T20<tspan x="37.7" dy="25.5">V0</tspan></text></g>
<g id="br-5-1" transform="translate(75.4 376.9)"><rect class="k b1"/><text x="37.7" y="35">T20<tspan x="37.7" dy="25.5">V1</tspan></text></g>
<g id="br-5-2" transform="translate(150.8 376.9)"><rect class="k b1"/><text x="37.7" y="35">T20<tspan x="37.7" dy="25.5">V2</tspan></text></g>
<g id="br-5-3" transform="translate(226.1 376.9)"><rect class="k b1"/><text x="37.7" y="35">T20<tspan x="37.7" dy="25.5">V3</tspan></text></g>
<g id="br-5-4" transform="translate(301.5 376.9)"><rect class="k g1"/><text x="37.7" y="35">T21<tspan x="37.7" dy="25.5">V0</tspan></text></g>
<g id="br-5-5" transform="translate(376.9 376.9)"><rect class="k g1"/><text x="37.7" y="35">T21<tspan x="37.7" dy="25.5">V1</tspan></text></g>
<g id="br-5-6" transform="translate(452.3 376.9)"><rect class="k g1"/><text x="37.7" y="35">T21<tspan x="37.7" dy="25.5">V2</tspan></text></g>
<g id="br-5-7" transform="translate(527.6 376.9)"><rect class="k g1"/><text x="37.7" y="35">T21<tspan x="37.7" dy="25.5">V3</tspan></text></g>
<g id="br-5-8" transform="translate(603 376.9)"><rect class="k y1"/><text x="37.7" y="35">T22<tspan x="37.7" dy="25.5">V0</tspan></text></g>
<g id="br-5-9" transform="translate(678.4 376.9)"><rect class="k y1"/><text x="37.7" y="35">T22<tspan x="37.7" dy="25.5">V1</tspan></text></g>
<g id="br-5-10" transform="translate(753.8 376.9)"><rect class="k y1"/><text x="37.7" y="35">T22<tspan x="37.7" dy="25.5">V2</tspan></text></g>
<g id="br-5-11" transform="translate(829.1 376.9)"><rect class="k y1"/><text x="37.7" y="35">T22<tspan x="37.7" dy="25.5">V3</tspan></text></g>
<g id="br-5-12" transform="translate(904.5 376.9)"><rect class="k r1"/><text x="37.7" y="35">T23<tspan x="37.7" dy="25.5">V0</tspan></text></g>
<g id="br-5-13" transform="translate(979.9 376.9)"><rect class="k r1"/><text x="37.7" y="35">T23<tspan x="37.7" dy="25.5">V1</tspan></text></g>
<g id="br-5-14" transform="translate(1055.3 376.9)"><rect class="k r1"/><text x="37.7" y="35">T23<tspan x="37.7" dy="25.5">V2</tspan></text></g>
<g id="br-5-15" transform="translate(1130.6 376.9)"><rect class="k r1"/><text x="37.7" y="35">T23<tspan x="37.7" dy="25.5">V3</tspan></text></g>

<g id="br-6-0" transform="translate(0 452.3)"><rect class="k b0"/><text x="37.7" y="35">T24<tspan x="37.7" dy="25.5">V0</tspan></text></g>
<g id="br-6-1" transform="translate(75.4 452.3)"><rect class="k b0"/><text x="37.7" y="35">T24<tspan x="37.7" dy="25.5">V1</tspan></text></g>
<g id="br-6-2" transform="translate(150.8 452.3)"><rect class="k b0"/><text x="37.7" y="35">T24<tspan x="37.7" dy="25.5">V2</tspan></text></g>
<g id="br-6-3" transform="translate(226.1 452.3)"><rect class="k b0"/><text x="37.7" y="35">T24<tspan x="37.7" dy="25.5">V3</tspan></text></g>
<g id="br-6-4" transform="translate(301.5 452.3)"><rect class="k g0"/><text x="37.7" y="35">T25<tspan x="37.7" dy="25.5">V0</tspan></text></g>
<g id="br-6-5" transform="translate(376.9 452.3)"><rect class="k g0"/><text x="37.7" y="35">T25<tspan x="37.7" dy="25.5">V1</tspan></text></g>
<g id="br-6-6" transform="translate(452.3 452.3)"><rect class="k g0"/><text x="37.7" y="35">T25<tspan x="37.7" dy="25.5">V2</tspan></text></g>
<g id="br-6-7" transform="translate(527.6 452.3)"><rect class="k g0"/><text x="37.7" y="35">T25<tspan x="37.7" dy="25.5">V3</tspan></text></g>
<g id="br-6-8" transform="translate(603 452.3)"><rect class="k y0"/><text x="37.7" y="35">T26<tspan x="37.7" dy="25.5">V0</tspan></text></g>
<g id="br-6-9" transform="translate(678.4 452.3)"><rect class="k y0"/><text x="37.7" y="35">T26<tspan x="37.7" dy="25.5">V1</tspan></text></g>
<g id="br-6-10" transform="translate(753.8 452.3)"><rect class="k y0"/><text x="37.7" y="35">T26<tspan x="37.7" dy="25.5">V2</tspan></text></g>
<g id="br-6-11" transform="translate(829.1 452.3)"><rect class="k y0"/><text x="37.7" y="35">T26<tspan x="37.7" dy="25.5">V3</tspan></text></g>
<g id="br-6-12" transform="translate(904.5 452.3)"><rect class="k r0"/><text x="37.7" y="35">T27<tspan x="37.7" dy="25.5">V0</tspan></text></g>
<g id="br-6-13" transform="translate(979.9 452.3)"><rect class="k r0"/><text x="37.7" y="35">T27<tspan x="37.7" dy="25.5">V1</tspan></text></g>
<g id="br-6-14" transform="translate(1055.3 452.3)"><rect class="k r0"/><text x="37.7" y="35">T27<tspan x="37.7" dy="25.5">V2</tspan></text></g>
<g id="br-6-15" transform="translate(1130.6 452.3)"><rect class="k r0"/><text x="37.7" y="35">T27<tspan x="37.7" dy="25.5">V3</tspan></text></g>

<g id="br-7-0" transform="translate(0 527.6)"><rect class="k b1"/><text x="37.7" y="35">T28<tspan x="37.7" dy="25.5">V0</tspan></text></g>
<g id="br-7-1" transform="translate(75.4 527.6)"><rect class="k b1"/><text x="37.7" y="35">T28<tspan x="37.7" dy="25.5">V1</tspan></text></g>
<g id="br-7-2" transform="translate(150.8 527.6)"><rect class="k b1"/><text x="37.7" y="35">T28<tspan x="37.7" dy="25.5">V2</tspan></text></g>
<g id="br-7-3" transform="translate(226.1 527.6)"><rect class="k b1"/><text x="37.7" y="35">T28<tspan x="37.7" dy="25.5">V3</tspan></text></g>
<g id="br-7-4" transform="translate(301.5 527.6)"><rect class="k g1"/><text x="37.7" y="35">T29<tspan x="37.7" dy="25.5">V0</tspan></text></g>
<g id="br-7-5" transform="translate(376.9 527.6)"><rect class="k g1"/><text x="37.7" y="35">T29<tspan x="37.7" dy="25.5">V1</tspan></text></g>
<g id="br-7-6" transform="translate(452.3 527.6)"><rect class="k g1"/><text x="37.7" y="35">T29<tspan x="37.7" dy="25.5">V2</tspan></text></g>
<g id="br-7-7" transform="translate(527.6 527.6)"><rect class="k g1"/><text x="37.7" y="35">T29<tspan x="37.7" dy="25.5">V3</tspan></text></g>
<g id="br-7-8" transform="translate(603 527.6)"><rect class="k y1"/><text x="37.7" y="35">T30<tspan x="37.7" dy="25.5">V0</tspan></text></g>
<g id="br-7-9" transform="translate(678.4 527.6)"><rect class="k y1"/><text x="37.7" y="35">T30<tspan x="37.7" dy="25.5">V1</tspan></text></g>
<g id="br-7-10" transform="translate(753.8 527.6)"><rect class="k y1"/><text x="37.7" y="35">T30<tspan x="37.7" dy="25.5">V2</tspan></text></g>
<g id="br-7-11" transform="translate(829.1 527.6)"><rect class="k y1"/><text x="37.7" y="35">T30<tspan x="37.7" dy="25.5">V3</tspan></text></g>
<g id="br-7-12" transform="translate(904.5 527.6)"><rect class="k r1"/><text x="37.7" y="35">T31<tspan x="37.7" dy="25.5">V0</tspan></text></g>
<g id="br-7-13" transform="translate(979.9 527.6)"><rect class="k r1"/><text x="37.7" y="35">T31<tspan x="37.7" dy="25.5">V1</tspan></text></g>
<g id="br-7-14" transform="translate(1055.3 527.6)"><rect class="k r1"/><text x="37.7" y="35">T31<tspan x="37.7" dy="25.5">V2</tspan></text></g>
<g id="br-7-15" transform="translate(1130.6 527.6)"><rect class="k r1"/><text x="37.7" y="35">T31<tspan x="37.7" dy="25.5">V3</tspan></text></g>
</g>
</svg>
